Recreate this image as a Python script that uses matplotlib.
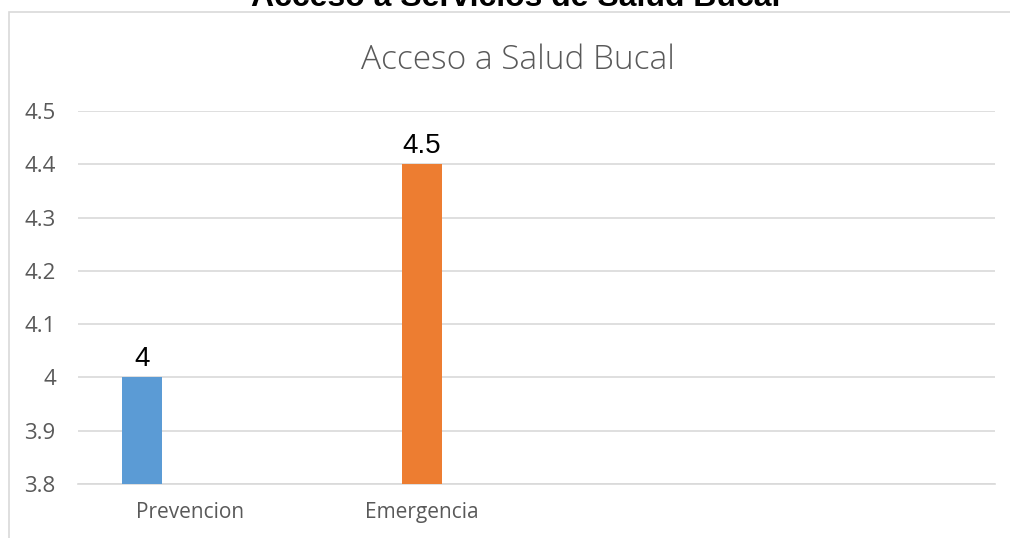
import matplotlib.pyplot as plt
import matplotlib.transforms as mtransforms
from matplotlib.patches import Rectangle

categories = ["Prevencion", "Emergencia"]
values = [4.0, 4.4]
value_labels = ["4", "4.5"]
bar_colors = ["#5B9BD5", "#ED7D31"]
yticks = [3.8, 3.9, 4.0, 4.1, 4.2, 4.3, 4.4, 4.5]
ytick_labels = ["3.8", "3.9", "4", "4.1", "4.2", "4.3", "4.4", "4.5"]

W, H = 1010, 538
fig = plt.figure(figsize=(W / 100, H / 100), dpi=100)
fig.patch.set_facecolor("white")

# chart frame (left and top edges visible only)
fig.add_artist(Rectangle((9 / W, -0.05), 1.2, (H - 12) / H + 0.05, transform=fig.transFigure,
                         facecolor="none", edgecolor="#D9D9D9", lw=1.2))

ax = fig.add_axes([78 / W, 54 / H, 917 / W, 373 / H])
x = list(range(len(categories)))
ax.bar(x, values, width=0.143, color=bar_colors, zorder=3)
ax.set_ylim(3.8, 4.5)
ax.set_xlim(-0.229, 3.046)
ax.set_yticks(yticks)
ax.set_yticklabels(ytick_labels)
ax.grid(axis="y", color="#D9D9D9", lw=1.2, zorder=0)
for s in ["top", "right", "left"]:
    ax.spines[s].set_visible(False)
ax.spines["bottom"].set_color("#D9D9D9")
ax.spines["bottom"].set_linewidth(1.2)
ax.tick_params(axis="both", length=0, labelsize=15, colors="#595959")
ax.tick_params(axis="y", pad=16)
ax.tick_params(axis="x", pad=13)
ax.set_xticks(x)
ax.set_xticklabels(categories, fontfamily="Open Sans")
for lab in ax.get_yticklabels():
    lab.set_fontfamily("Open Sans")
    lab.set_fontsize(16)
# Excel placed the first category label a bit to the right
first = ax.get_xticklabels()[0]
first.set_transform(first.get_transform() + mtransforms.ScaledTranslation(0.48, 0, fig.dpi_scale_trans))

for xi, v, lab in zip(x, values, value_labels):
    ax.annotate(lab, (xi, v), xytext=(0, 8), textcoords="offset points",
                ha="center", va="baseline", fontsize=20, color="black", fontfamily="Liberation Sans")

fig.text(518 / W, 1 - 60 / H, "Acceso a Salud Bucal", ha="center", va="center",
         fontsize=24, color="#595959", fontfamily="Open Sans", fontweight="light")
fig.text(516 / W, 1 - 6 / H, "Acceso a Servicios de Salud Bucal", ha="center", va="baseline",
         fontsize=23, fontweight="bold", fontfamily="Liberation Sans", color="black")

fig.savefig("out.png", dpi=100, facecolor="white")
